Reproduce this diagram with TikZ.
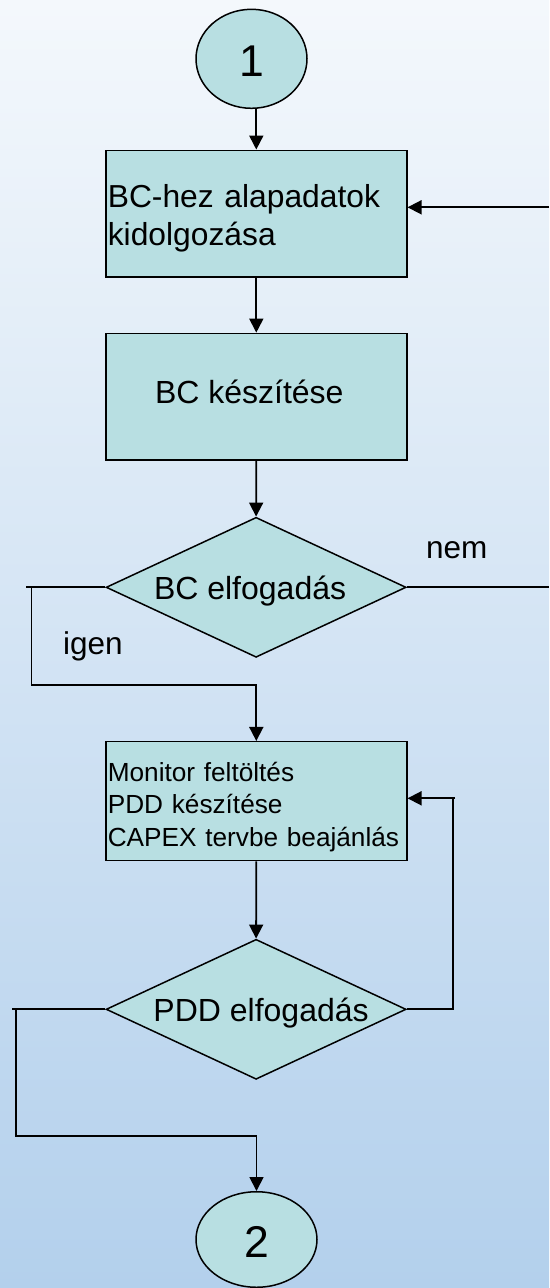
\documentclass[tikz,border=0pt]{standalone}
\usepackage{fontspec}
\setmainfont{Liberation Sans}
\usetikzlibrary{shapes.geometric,arrows.meta,calc}
\definecolor{bgtop}{HTML}{F4F8FC}
\definecolor{bgmid}{HTML}{C9DDF1}
\definecolor{bgbot}{HTML}{B3D0EC}
\definecolor{shapefill}{HTML}{B8DFE2}
\begin{document}
\begin{tikzpicture}[x=1pt,y=-1pt,
  shapebase/.style={draw=black, line width=1.5pt, fill=shapefill, inner sep=0pt},
  boxstyle/.style={shapebase, rectangle, minimum width=301pt},
  textbox/.style={boxstyle, inner xsep=2pt, text width=297pt, align=left},
  dia/.style={shapebase, diamond, aspect=2.14, minimum width=300pt, minimum height=140pt,
    font=\fontsize{32}{38}\selectfont, text height=24pt, text depth=0pt},
  circ/.style={shapebase, ellipse, font=\fontsize{44.5}{50}\selectfont, text height=35.4pt, text depth=0pt},
  line/.style={draw=black, line width=1.8pt},
  arr/.style={line, -{Triangle[length=14pt,width=14pt]}},
  lbl/.style={inner sep=0pt, anchor=base west, font=\fontsize{31.5}{38}\selectfont}
]
\useasboundingbox (0,0) rectangle (549,1288);
\shade[top color=bgtop, middle color=bgmid, bottom color=bgbot] (0,0) rectangle (549,1288);

% nodes
\node[circ, minimum width=111pt, minimum height=99pt] (c1) at (251.5,58.8) {1};
\node[textbox, minimum height=126.7pt, font=\fontsize{31.8}{38}\selectfont] (b1) at (256.3,213.65)
  {\rule{0pt}{33pt}BC-hez alapadatok\\kidolgozása};
\node[boxstyle, minimum height=126.7pt, font=\fontsize{32}{38}\selectfont,
  text height=23pt, text depth=9.6pt] (b2) at (256.3,396.7) {\hspace*{-14pt}BC készítése};
\node[dia] (d1) at (256.1,587.3) {\hspace*{-12pt}BC elfogadás};
\node[textbox, minimum height=119pt, font=\fontsize{26.2}{32.2}\selectfont] (b3) at (256.3,801.2)
  {\rule{0pt}{31pt}Monitor feltöltés\\PDD készítése\\CAPEX tervbe beajánlás};
\node[dia] (d2) at (256.1,1009.3) {\hspace*{10pt}PDD elfogadás};
\node[circ, minimum width=121pt, minimum height=95.5pt] (c2) at (256.5,1239.5) {2};

\node[lbl] (nem) at (426,558) {nem};
\node[lbl] (igen) at (63,654) {igen};

% helper coordinates
\coordinate (e1) at (549,207.3);
\coordinate (e2) at (549,587.3);
\coordinate (s1) at (26,587.3);
\coordinate (l1) at (31.5,587.3);
\coordinate (l1b) at (31.5,685);
\coordinate (r2) at (452.7,798.3);
\coordinate (r2s) at (455,798.3);
\coordinate (s2) at (12.3,1009.3);
\coordinate (l2) at (15.8,1009.3);
\coordinate (l2b) at (15.8,1136);

% connectors
\draw[arr] (b1.north |- c1.south) -- (b1.north);
\draw[arr] (b1.south) -- (b2.north);
\draw[arr] (b2.south) -- (d1.north);
\draw[arr] (e1) -- (b1.east |- e1);
\draw[line] (d1.east) -- (e2);
\draw[line] (d1.west) -- (s1);
\draw[arr] (l1) -- (l1b) -| (b3.north);
\draw[arr] (b3.south) -- (d2.north);
\draw[line] (d2.east) -| (r2);
\draw[arr] (r2s) -- (b3.east |- r2s);
\draw[line] (d2.west) -- (s2);
\draw[arr] (l2) -- (l2b) -| (c2.north);
\end{tikzpicture}
\end{document}
